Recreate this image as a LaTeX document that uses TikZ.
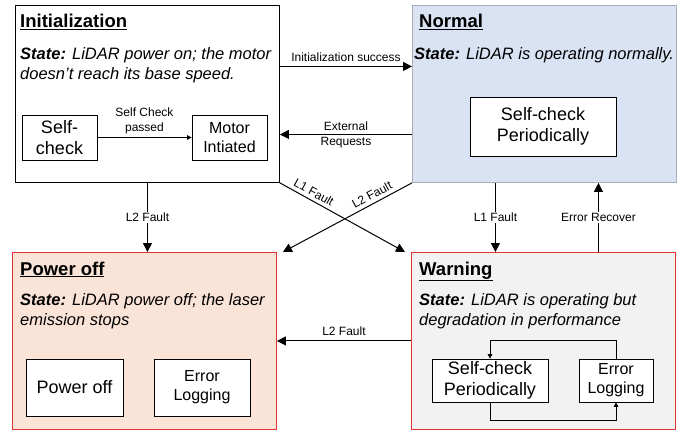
\documentclass[tikz,border=0pt]{standalone}
\usepackage{fontspec}
\setmainfont{Liberation Sans}
\usetikzlibrary{arrows.meta,positioning,calc}
\definecolor{normalblue}{HTML}{DAE3F3}
\definecolor{offpeach}{HTML}{FAE3D7}
\definecolor{warngrey}{HTML}{F2F2F2}
\definecolor{faultred}{HTML}{E03333}
\definecolor{edgegrey}{HTML}{A8AEB8}

\begin{document}
\begin{tikzpicture}[x=1pt,y=-1pt,
  statebox/.style={draw,line width=0.9pt,minimum width=264pt,minimum height=177pt,anchor=north west,inner sep=0pt},
  title/.style={anchor=base west,inner sep=0pt,font=\fontsize{18.5}{20}\selectfont\bfseries},
  info/.style={anchor=north west,align=left,inner sep=0pt,font=\fontsize{16.5}{20}\selectfont\itshape},
  subbox/.style={draw,fill=white,line width=0.7pt,align=center,inner sep=0pt,font=\fontsize{18}{21}\selectfont},
  smallbox/.style={subbox,font=\fontsize{16}{19}\selectfont},
  lbl/.style={align=center,inner sep=1.5pt,font=\fontsize{12}{15}\selectfont},
  arr/.style={-{Triangle[length=9pt,width=9pt]},line width=1pt},
  sarr/.style={-{Triangle[length=4.5pt,width=4.5pt]},line width=0.7pt}]
\useasboundingbox (0,0) rectangle (694,433);

% the four states
\node[statebox] (init) at (15,5) {};
\node[statebox,fill=normalblue,draw=edgegrey] (normal) at (412,5) {};
\node[statebox,fill=offpeach,draw=faultred] (poff) at (12,252) {};
\node[statebox,fill=warngrey,draw=faultred] (warn) at (411,252) {};

% headings and state notes
\node[title] (initT) at (20,28) {\underline{Initialization}};
\node[title] (normalT) at (419,28) {\underline{Normal}};
\node[title] (poffT) at (20,275) {\underline{Power off}};
\node[title] (warnT) at (419,275) {\underline{Warning}};
\node[info] (initS) at (20,47) {\textbf{State:} LiDAR power on; the motor\\doesn't reach its base speed.};
\node[info] (normalS) at (414,47) {\textbf{State:} LiDAR is operating normally.};
\node[info] (poffS) at (20,293) {\textbf{State:} LiDAR power off; the laser\\emission stops};
\node[info] (warnS) at (419,293) {\textbf{State:} LiDAR is operating but\\degradation in performance};

% inner steps
\node[subbox,minimum width=75pt,minimum height=45pt] (selfchk) at (59.5,137.5) {Self-\\check};
\node[smallbox,minimum width=75pt,minimum height=45pt] (motor) at (229.5,137.5) {Motor\\Intiated};
\node[subbox,minimum width=146pt,minimum height=59pt] (nchk) at (543,126.5) {Self-check\\Periodically};
\node[subbox,minimum width=97pt,minimum height=57pt] (pbox) at (74.5,387.5) {Power off};
\node[smallbox,minimum width=96pt,minimum height=57pt] (plog) at (202,387.5) {Error\\Logging};
\node[subbox,minimum width=116pt,minimum height=43pt] (wchk) at (490,380.5) {Self-check\\Periodically};
\node[smallbox,minimum width=74pt,minimum height=43pt] (wlog) at (616,380.5) {Error\\Logging};

% arrows inside the states
\draw[sarr] (selfchk) -- (motor) node[lbl,midway,above=2pt] {Self Check\\passed};
\draw[sarr] (wlog.north) -- ++(0,-18) -| (wchk.north);
\draw[sarr] (wchk.south) -- ++(0,18) -| (wlog.south);

% transitions
\draw[arr] ([yshift=27.5pt]init.east) -- ([yshift=27.5pt]normal.west) node[lbl,midway,above=3pt] {Initialization success};
\draw[arr] ([yshift=-40.5pt]normal.west) -- ([yshift=-40.5pt]init.east) node[lbl,midway] {External\\Requests};
\draw[arr] (init.south) -- (init.south |- poff.north) node[lbl,midway,fill=white] {L2 Fault};
\draw[arr] ([xshift=-49pt]normal.south) -- ([xshift=-49pt]normal.south |- warn.north) node[lbl,midway,fill=white] {L1 Fault};
\draw[arr] ([xshift=54pt]normal.south |- warn.north) -- ([xshift=54pt]normal.south) node[lbl,midway,fill=white] {Error Recover};
\draw[arr] (init.south east) -- ([xshift=-6pt]warn.north west) node[lbl,pos=0.24,sloped,above=2pt] {L1 Fault};
\draw[arr] (normal.south west) -- ([xshift=6pt]poff.north east) node[lbl,pos=0.28,sloped,above=2pt] {L2 Fault};
\draw[arr] (warn.west) -- (poff.east) node[lbl,midway,above=3pt] {L2 Fault};
\end{tikzpicture}
\end{document}
